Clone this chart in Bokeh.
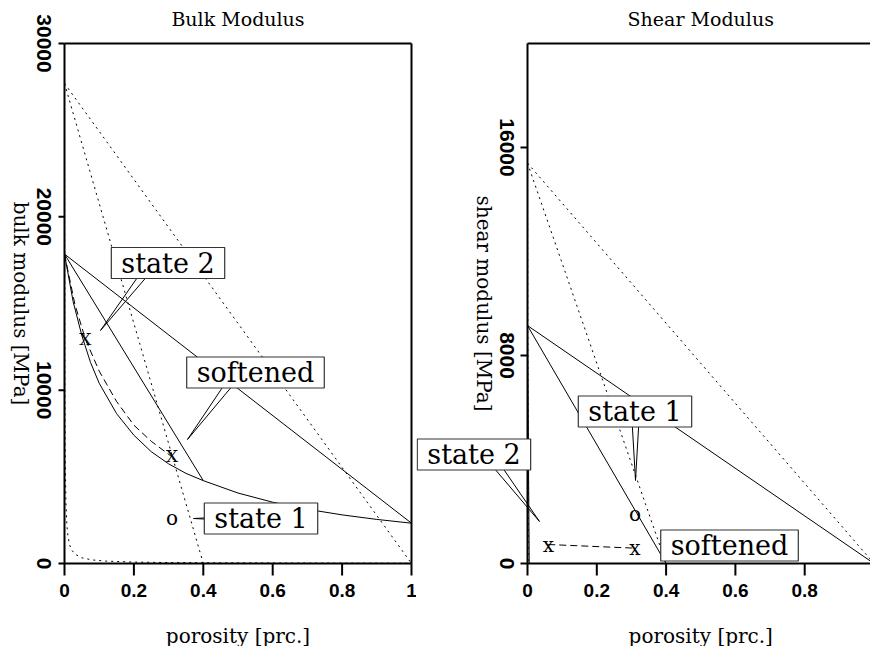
import math
from bokeh.plotting import figure
from bokeh.models import Range1d, Label, PolyAnnotation
from bokeh.layouts import row
from bokeh.core.properties import value
from bokeh.embed import file_html
from bokeh.resources import INLINE

# ---------------- Bulk modulus panel (porosity, MPa) ----------------
bulk_voigt_phi = [0.0, 1.0]
bulk_voigt_k = [27700, 0]
bulk_crit_phi = [0.0, 0.4]
bulk_crit_k = [27700, 0]
bulk_reuss_phi = [0.0, 0.001, 0.002, 0.004, 0.007, 0.01, 0.015, 0.02, 0.03, 0.05,
                  0.08, 0.12, 0.2, 0.3, 0.4, 0.6, 0.8, 1.0]
bulk_reuss_k = [27700, 10340, 6360, 3590, 2170, 1560, 1060, 800, 540, 326,
                205, 137, 82, 55, 41, 28, 21, 17]
bulk_upper_phi = [0.0, 1.0]
bulk_upper_k = [17850, 2325]
bulk_stiff_phi = [0.0, 0.4]
bulk_stiff_k = [17850, 4780]
bulk_fluid_phi = [0.4, 0.5, 0.6, 0.7, 0.8, 0.9, 1.0]
bulk_fluid_k = [4780, 4065, 3536, 3128, 2806, 2543, 2325]
bulk_soft_phi = [0.0, 0.025, 0.05, 0.075, 0.1, 0.15, 0.2, 0.25, 0.3, 0.35, 0.4]
bulk_soft_k = [17850, 15100, 13150, 11600, 10400, 8650, 7400, 6450, 5750, 5200, 4780]
bulk_softened_phi = [0.0, 0.03, 0.06, 0.1, 0.15, 0.2, 0.25, 0.31]
bulk_softened_k = [17850, 14950, 12950, 11100, 9350, 7980, 7050, 6150]
bulk_x_phi = [0.06, 0.31]
bulk_x_k = [12950, 6200]
bulk_o_phi = [0.31]
bulk_o_k = [2650]

# ---------------- Shear modulus panel (porosity, MPa) ----------------
shear_voigt_phi = [0.0, 1.0]
shear_voigt_g = [15400, 0]
shear_crit_phi = [0.0, 0.4]
shear_crit_g = [15400, 0]
shear_reuss_phi = [0.0, 0.002, 1.0]
shear_reuss_g = [15400, 0, 0]
shear_upper_phi = [0.0, 1.0]
shear_upper_g = [9150, 0]
shear_stiff_phi = [0.0, 0.4]
shear_stiff_g = [9150, 0]
shear_soft_phi = [0.0, 0.005, 1.0]
shear_soft_g = [9150, 0, 0]
shear_x_phi = [0.06, 0.31]
shear_x_g = [730, 590]
shear_o_phi = [0.31]
shear_o_g = [1885]

# ticks
bulk_xticks = [0, 0.2, 0.4, 0.6, 0.8, 1.0]
bulk_xlabels = ["0", "0.2", "0.4", "0.6", "0.8", "1"]
bulk_yticks = [0, 10000, 20000, 30000]
shear_xticks = [0, 0.2, 0.4, 0.6, 0.8]
shear_xlabels = ["0", "0.2", "0.4", "0.6", "0.8"]
shear_yticks = [0, 8000, 16000]

# annotation boxes: (text, x, y) and leader wedges (xs, ys)
bulk_boxes = [("state 2", 0.2983, 17336), ("softened", 0.5504, 11019), ("state 1", 0.5663, 2596)]
bulk_leaders = [([0.2392, 0.2709, 0.1037], [17336, 17336, 13442]),
                ([0.4841, 0.5159, 0.3545], [11019, 11019, 7154]),
                ([0.45, 0.45, 0.3718], [2520, 2670, 2596])]
shear_boxes = [("state 2", -0.1545, 4192), ("state 1", 0.3102, 5846), ("softened", 0.583, 692)]
shear_leaders = [([-0.1299, -0.0981, 0.0346], [4192, 4192, 1615]),
                 ([0.3001, 0.3232, 0.3117], [5846, 5846, 3192])]

SERIF = "DejaVu Serif"
NUM = "Liberation Sans"
H = 646
AXIS_ROW = 563      # pixel row of the x axis (value 0)
TOP_ROW = 43        # pixel row of the top border


def make_panel(width, x0_px, px_per_unit, y_top, xmax, title, ylabel,
               xticks, xlabels, yticks, ytick_len):
    """The data frame fills the whole canvas; axes are drawn in data space.
    x0_px: canvas pixel of porosity 0; y_top: value drawn at TOP_ROW."""
    per_px = y_top / (AXIS_ROW - TOP_ROW)          # data units per pixel (y)
    ux = 1.0 / px_per_unit                         # data units per pixel (x)
    xr = (-x0_px * ux, (width - x0_px) * ux)
    yr = (-(H - AXIS_ROW) * per_px, AXIS_ROW * per_px)
    p = figure(width=width, height=H, output_backend="svg", toolbar_location=None,
               x_range=Range1d(*xr), y_range=Range1d(*yr),
               min_border=0)
    p.title.visible = False
    p.background_fill_color = "white"
    p.border_fill_color = "white"
    p.outline_line_color = None
    p.xgrid.visible = False
    p.ygrid.visible = False
    p.xaxis.visible = False
    p.yaxis.visible = False

    # frame: left axis line, top border, x axis line
    p.line([0, 0], [0, y_top], line_color="black", line_width=2)
    p.line([0, max(1.0, xmax)], [y_top, y_top], line_color="black", line_width=2)
    p.line([0, max(1.0, xmax)], [0, 0], line_color="black", line_width=2)

    # x ticks / labels / axis label
    n = len(xticks)
    p.segment(x0=xticks, y0=[0] * n, x1=xticks, y1=[-12 * per_px] * n,
              line_color="black", line_width=2)
    p.text(x=xticks, y=[-27 * per_px] * n, text=xlabels,
           text_font=value(NUM), text_font_style="bold", text_font_size="19px",
           text_align="center", text_baseline="middle", text_color="black")
    p.text(x=[0.5], y=[-72 * per_px], text=["porosity [prc.]"],
           text_font=value(SERIF), text_font_size="20px",
           text_align="center", text_baseline="middle", text_color="black")

    # y ticks / labels (reading top to bottom) / axis label
    m = len(yticks)
    p.segment(x0=[-ytick_len * ux] * m, y0=yticks, x1=[0] * m, y1=yticks,
              line_color="black", line_width=2)
    p.text(x=[-21 * ux] * m, y=yticks, text=[str(t) for t in yticks], angle=-math.pi / 2,
           text_font=value(NUM), text_font_style="bold", text_font_size="21px",
           text_align="center", text_baseline="middle", text_color="black")
    p.text(x=[-44 * ux], y=[y_top / 2], text=[ylabel], angle=-math.pi / 2,
           text_font=value(SERIF), text_font_size="20px",
           text_align="center", text_baseline="middle", text_color="black")
    # title
    p.text(x=[0.5], y=[y_top + 25 * per_px], text=[title],
           text_font=value(SERIF), text_font_size="19px",
           text_align="center", text_baseline="middle", text_color="black")
    return p


def dotted(p, x, y):
    p.line(x, y, line_color="black", line_width=1, line_dash="2 4")


def solid(p, x, y):
    p.line(x, y, line_color="black", line_width=1)


def dashed(p, x, y):
    p.line(x, y, line_color="black", line_width=1, line_dash="7 4")


def marks(p, x, y, t, size):
    p.text(x, y, text=[t] * len(x), text_font=value(SERIF), text_font_size=size,
           text_align="center", text_baseline="middle", text_color="black")


def annotate(p, boxes, leaders):
    for xs, ys in leaders:
        p.add_layout(PolyAnnotation(xs=xs, ys=ys, xs_units="data", ys_units="data",
                                    fill_color=None, fill_alpha=0,
                                    line_color="black", line_alpha=1, line_width=1))
    for txt, x, y in boxes:
        p.add_layout(Label(x=x, y=y, text=txt, text_font=SERIF, text_font_size="27px",
                           text_align="center", text_baseline="middle", text_color="black",
                           background_fill_color="white", border_line_color="#333333",
                           border_line_width=1.2, padding=(10, 0)))


# ---- left panel: canvas 0..416, porosity 0 at x=64 ----
p1 = make_panel(416, 64, 347.0, 30000, 1.0, "Bulk Modulus", "bulk modulus [MPa]",
                bulk_xticks, bulk_xlabels, bulk_yticks, 6)
p1.line([1, 1], [0, 30000], line_color="black", line_width=2)   # right border
dotted(p1, bulk_voigt_phi, bulk_voigt_k)
dotted(p1, bulk_crit_phi, bulk_crit_k)
dotted(p1, bulk_reuss_phi, bulk_reuss_k)
solid(p1, bulk_upper_phi, bulk_upper_k)
solid(p1, bulk_stiff_phi, bulk_stiff_k)
solid(p1, bulk_fluid_phi, bulk_fluid_k)
solid(p1, bulk_soft_phi, bulk_soft_k)
dashed(p1, bulk_softened_phi, bulk_softened_k)
marks(p1, bulk_x_phi, bulk_x_k, "X", "17px")
marks(p1, bulk_o_phi, bulk_o_k, "o", "20px")
annotate(p1, bulk_boxes, bulk_leaders)

# ---- right panel: canvas 416..870, porosity 0 at page x=527 ----
p2 = make_panel(454, 111, 346.5, 20000, 0.99, "Shear Modulus", "shear modulus [MPa]",
                shear_xticks, shear_xlabels, shear_yticks, 7)
dotted(p2, shear_voigt_phi, shear_voigt_g)
dotted(p2, shear_crit_phi, shear_crit_g)
dotted(p2, shear_reuss_phi, shear_reuss_g)
solid(p2, shear_upper_phi, shear_upper_g)
solid(p2, shear_stiff_phi, shear_stiff_g)
solid(p2, shear_soft_phi, shear_soft_g)
dashed(p2, shear_x_phi, shear_x_g)
marks(p2, shear_x_phi, shear_x_g, "x", "20px")
marks(p2, shear_o_phi, shear_o_g, "o", "20px")
annotate(p2, shear_boxes, shear_leaders)

layout = row(p1, p2)
open("out.html", "w").write(file_html(layout, INLINE))
